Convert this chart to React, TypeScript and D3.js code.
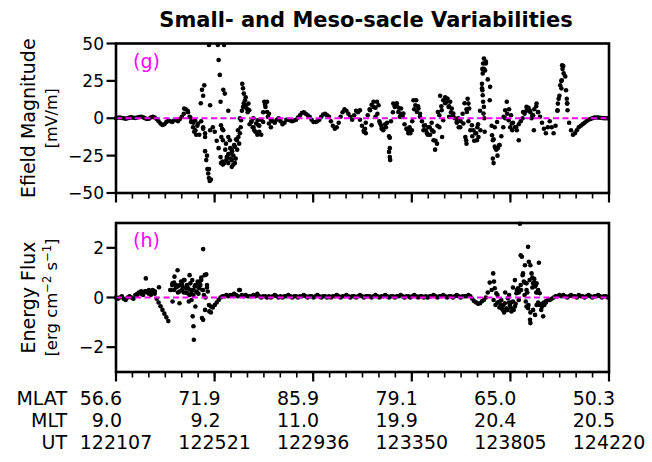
import React from 'react';
import * as d3 from 'd3';

// time axis: seconds after 12:21:07 UT
const STEP = 5;
const T_END = 1273;
const tickSeconds = [0, 254.6, 509.2, 763.8, 1018.4, 1273];
const mlatLabels = ['56.6', '71.9', '85.9', '79.1', '65.0', '50.3'];
const mltLabels = ['9.0', '9.2', '11.0', '19.9', '20.4', '20.5'];
const utLabels = ['122107', '122521', '122936', '123350', '123805', '124220'];
const efieldTicks = [-50, -25, 0, 25, 50];
const fluxTicks = [-2, 0, 2];

// Efield magnitude (mV/m), sampled every STEP seconds
const efieldTrack = [
  0, 0.3, 0.5, 0.2, 0, -0.3, 0, 0.4, 0.6, 0.3,
  0.2, 0.5, 0.8, 1, 0.6, 0, -0.5, -0.3, 0.5, 1,
  0.5, -0.5, -2, -3.5, -4.5, -4, -2.5, -1.5, -2, -2.5,
  -1.5, -1, -2, -0.5, 1, 3, 6, 5, 1, -2,
  -3, -8, -5, -11, -2, -7, -10, -25, -34, -41,
  -6, -9, -15, -20, -26, -29, -30, -28, -24, -20,
  -22, -18, -14, -8, 0, 5, 10, 14, 6, -4,
  -2, -6, -9, -11, -5, -1, 4, 9, 11, 3,
  -1, -2, -3, -1, 0, -2, -4, -3, -1, -1,
  -1.5, -2, -1.5, -1, 0.5, 2, 3.5, 4, 3, 2,
  1, -1, -2.5, -2.5, -2, -1, 1, 2.5, 3, 2,
  1, -2, -5, -7, -6, -3, 1, 4, 6, 5,
  3, 1, -1, 2, 5, 4, -1, -5, -8, -3,
  2, 6, 9, 11, 7, 3, -2, -5, -7, -4,
  -3, -12, -2, 4, 8, 10, 7, 3, 1, -4,
  -7, -10, -8, -2, 6, 12, 8, 3, -2, -5,
  -8, -11, -6, -3, -9, -15, -5, 2, 8, 12,
  10, 13, 8, 4, 2, 0, -3, -6, -2, 3,
  10, 6, -2, -8, -12, -15, -10, -4, 5, 20,
  33, 38, 26, 12, -5, -14, -20, -25, -18, -12,
  -6, 0, 3, 6, 2, -3, -6, -8, -4, -2,
  0, 3, 5, 7, 4, 2, 6, 8, 4, 1,
  -3, -7, -10, -6, -2, -6, -10, -5, 5, 15,
  25, 35, 28, 10, -3, -8, -11, -10, -8, -6,
  -5, -4, -3, -2, -1, -0.5, 0, 0.5, 0.5, 0.5,
  0.3, 0.2, 0, 0, 0,
];

// additional Efield samples in the active intervals: [seconds, mV/m]
const efieldScatter: [number, number][] = [
  [176, 6.5], [186, 4], [192, 0.5], [194, -2.5], [199, -6], [202, -9], [204, -1.3], [207, -11], [212, -3.5],
  [219, 10], [222, 19], [225, 15], [225, -6], [228, 22], [230, -12.5], [230, -22], [233, -28], [236, -34],
  [238, -37], [240, -40], [242, -42], [240, 49], [243, 8.7], [243, -8], [263, 49], [265, 39], [268, 29],
  [270, 11], [279, 49], [277, 19], [281, 16.5], [290, 5],
  [271, -4.7], [274, -7], [277, -8], [272, -12.5], [276, -14.7], [284, -17], [290, -12.5], [282, -21],
  [286, -26], [295, -27], [299, -28], [303, -25], [307, -19], [312, -14.7], [313, -21], [316, -12.5],
  [318, -17], [320, -10], [322, -6], [294, -14.7], [299, -21], [307, -30], [303, -31], [299, -32.5],
  [290, -30], [276, -31], [271, -30], [297, -23.6], [309, -27],
  [326, 23], [328, 20], [330, 16.5], [333, 12], [335, 8.7], [337, 6.5], [340, 4], [328, 7.6], [323, -1.3],
  [342, 9.8], [344, 5.4],
  [349, -2.5], [353, -6], [357, -8], [362, -3.5], [366, -1.3], [370, -9], [375, -11], [355, 0], [368, -4.7],
  [383, 11], [386, 7.6], [390, 4.2], [392, 1], [395, -3.5], [400, -6], [380, -2.5],
  [630, 5.4], [643, -7], [645, -10], [640, -9], [656, 5.4], [665, 7.6], [674, 11], [678, 8.7], [670, 1],
  [660, -4.7], [682, -3.5], [686, -7], [690, -8], [697, -6],
  [707, -13], [707, -20], [705, -22.5], [707, -26], [708, -28],
  [716, 9.8], [720, 7.6], [724, 8.7], [729, 4.2], [736, 6.5], [742, 3.1], [733, 1],
  [751, -7], [755, -9], [760, -10], [764, -8], [758, -6],
  [768, 12], [773, 8.7], [777, 4.2], [781, 6.5], [785, 1],
  [794, -8], [798, -4.7], [803, -10], [807, -6], [811, -11], [816, -8], [820, -14.7], [824, -21], [829, -17],
  [837, 15], [841, 5.4], [845, -1.3], [835, -6], [842, -12.5], [831, 4.2],
  [850, 14], [854, 11], [859, 7.6],
  [856, 13], [863, 11], [867, 6.5], [871, 3.1], [860, 1], [880, -2.5], [889, -6], [897, -3.5], [884, 0],
  [904, -14.7], [902, -12.5], [905, -17], [908, 13], [910, 9.8], [912, 6.5], [906, 4.2],
  [919, -4.7], [923, -8], [928, -10], [932, -14.7], [936, -12.5], [941, -8], [933, -6],
  [950, 40], [948, 36.6], [946, 33], [947, 30], [945, 23], [946, 18.7], [947, 15.4], [948, 11], [950, 7.6],
  [949, 3.1], [951, 0], [955, 36.6], [953, 32],
  [966, 21], [952, -9], [971, -11.4], [973, -14.7], [978, -19], [982, -21], [973, -27], [975, -30],
  [986, -20], [990, -18], [978, -6], [984, -2.5],
  [1009, 11], [1005, 5.4], [1001, 1], [1014, -1.3], [1018, -6], [1022, -3.5], [1023, -8], [1040, -14.7], [1033, -6],
  [1051, 4.2], [1060, 7.6], [1068, 5.4], [1077, 2], [1086, 9.8], [1090, 4.2], [1079, -8], [1073, 0],
  [1152, 35.5], [1153, 33], [1156, 30], [1151, 25.4], [1147, 22], [1150, 20], [1143, 13], [1141, 9.8],
  [1140, 5.4], [1162, 18.7], [1164, 13], [1165, 9.8], [1166, 5.4],
];

// Energy flux (erg cm^-2 s^-1), sampled every STEP seconds
const fluxTrack = [
  0, -0.05, 0, 0.05, -0.05, -0.1, 0, 0.05, 0, -0.05,
  0.1, 0.15, 0.2, 0.15, 0.2, 0.25, 0.2, 0.15, 0.2, 0.2,
  0.15, -0.05, -0.2, -0.35, -0.5, -0.65, -0.8, -0.95, 0.3, 0.5,
  0.6, 0.4, 0.2, 0.5, 0.3, 0.7, 0.2, 0.4, 0.1, -0.1,
  0.3, 0.5, 0.2, 0.6, 0.8, 0.3, -0.5, 0.4, -0.3, -0.6,
  -0.4, -0.3, -0.2, -0.1, 0, 0.05, 0.05, 0.1, 0.05, 0.1,
  0.1, 0.15, 0.1, 0.05, 0.3, 0.1, 0.05, 0.1, 0.05, 0.05,
  0.05, 0.1, 0.05, 0.15, 0.05, 0, 0.05, 0.05, 0, 0.05,
  0, 0.05, 0.1, 0.05, 0, 0.05, 0, 0.05, 0.05, 0.1,
  0.05, 0, 0.05, 0.05, 0, 0.05, 0.05, 0.1, 0.05, 0,
  0.05, 0.05, 0, 0.05, 0.1, 0.05, 0, 0.05, 0.05, 0,
  0.05, 0, 0.05, 0.05, 0.1, 0.05, 0, 0.05, 0.05, 0.1,
  0.05, 0, 0.05, 0.05, 0, 0.05, 0.1, 0.05, 0, 0.05,
  0.05, 0.05, 0, 0.05, 0.1, 0.05, 0, 0.05, 0.05, 0.1,
  0.05, 0, 0.05, 0.05, 0, 0.05, 0.05, 0.1, 0.05, 0,
  0.05, 0.05, 0, 0.05, 0.1, 0.05, 0, 0.05, 0.05, 0,
  0.05, 0, 0.05, 0.05, 0.1, 0.05, 0, 0.05, 0.05, 0.1,
  0.05, 0, 0.05, 0.05, 0, 0.05, 0.1, 0.05, 0, 0.05,
  0.05, 0.05, 0.1, 0.05, -0.05, -0.15, -0.2, -0.25, -0.23, -0.15,
  -0.1, 0, 0.2, 0.6, 0.3, -0.1, -0.3, -0.2, -0.4, -0.1,
  -0.3, 0.2, -0.5, 0.1, -0.2, 0.4, 0.7, 0.3, -0.1, 0.5,
  0.9, 0.6, 0.3, -0.3, -0.6, 0.4, 0.6, 0.2, -0.2, -0.3,
  -0.25, -0.2, -0.15, -0.1, -0.1, -0.05, 0, 0.05, 0.05, 0.1,
  0.05, 0.1, 0.05, 0, 0.05, 0.1, 0.05, 0.05, 0, 0.1,
  0.05, 0.05, 0, 0.05, 0.1, 0.05, 0, 0.05, 0.05, 0.1,
  0.05, 0, 0.05, 0.05, 0,
];

// additional energy-flux samples in the active intervals: [seconds, flux]
const fluxScatter: [number, number][] = [
  [55, 0.1], [60, 0.2], [65, 0.25], [70, 0.1], [77, 0.77], [80, 0.25], [85, 0.3], [90, 0.1], [95, 0.3],
  [100, 0.25], [111, 0.41],
  [142, 0.3], [146, 0.57], [151, 0.84], [155, 0.5], [159, 1.1], [164, 0.24], [168, 0.64], [172, 0.44],
  [177, 0.7], [181, 0.37], [185, 0.17], [190, 0.9], [192, 0.57], [194, 0.3], [197, 0.7], [200, 0.1],
  [203, 0.44], [207, 0.24], [211, 0.64], [215, 0.37], [220, 0.7], [225, 1.95], [229, 0.9], [233, 0.93],
  [235, 0.5], [237, 0.24], [231, 0],
  [150, 0.3], [160, 0.45], [170, 0.55], [175, 0.2], [183, 0.5], [187, 0.35], [195, 0.15], [210, 0.45],
  [213, 0.15], [218, 0.5], [223, 0.3], [227, 0.1],
  [146, -0.16], [164, -0.23], [188, -0.16], [198, -0.76], [200, -1.16], [201, -1.7], [205, -0.36],
  [222, -0.83], [225, -0.9], [241, -0.56], [245, -0.36], [318, 0.3],
  [974, 0.97], [976, 0.64], [978, 0.37], [982, 0.17], [991, -0.16], [995, -0.36], [999, -0.5],
  [1004, -0.23], [1008, -0.43], [1012, -0.03], [1017, -0.3], [1021, -0.56], [1025, -0.16], [1030, -0.36],
  [1034, 0.17], [1038, 0.37],
  [1043, 2.97], [1045, 1.7], [1048, 1.64], [1051, 0.97], [1053, 0.64], [1056, 1.3], [1060, 0.57],
  [1064, 2.04], [1066, 1.44], [1070, 1.3], [1073, 0.97], [1077, 0.57], [1082, 0.44], [1086, 0.57],
  [1090, 0.3], [1092, 1.4], [1094, 0.17],
  [1058, -0.16], [1060, -0.36], [1064, -0.43], [1069, -0.9], [1070, -1.03], [1077, -0.5], [1082, -0.7],
  [1086, -0.3], [1103, -0.76], [1100, -0.36],
  [985, 0.1], [993, -0.3], [997, -0.45], [1002, -0.6], [1010, -0.5], [1015, -0.2], [1019, -0.4],
  [1027, -0.5], [1032, -0.25], [1040, 0.2], [1046, 0.3], [1055, 0.1], [1062, 0.2], [1068, 0.7],
  [1075, 0.8], [1080, 0.75], [1084, 0.5], [1088, 0.2], [1095, -0.3], [1098, -0.5], [1106, -0.3], [1110, -0.2],
];

const W = 652;
const H = 462;
const X0 = 116;
const X1 = 609;
const G_TOP = 43.5;
const G_BOT = 193;
const H_TOP = 223;
const H_BOT = 372;
const FONT = 'DejaVu Sans, sans-serif';
const MAGENTA = '#ff00ff';

export default function App() {
  const x = d3.scaleLinear().domain([0, T_END]).range([X0, X1]);
  const yG = d3.scaleLinear().domain([-50, 50]).range([G_BOT, G_TOP]);
  const yH = d3.scaleLinear().domain([-3, 3]).range([H_BOT, H_TOP]);
  const minor = d3.range(0, 31).map((i) => (i * T_END) / 30);

  const gPts: [number, number][] = efieldTrack.map((v, i) => [i * STEP, v] as [number, number]).concat(efieldScatter);
  const hPts: [number, number][] = fluxTrack.map((v, i) => [i * STEP, v] as [number, number]).concat(fluxScatter);

  const xTicks = (yb: number, key: string) => (
    <g key={key}>
      {minor.map((t, i) => (
        <line key={'m' + i} x1={x(t)} x2={x(t)} y1={yb} y2={yb + 5.5} stroke="#000" strokeWidth={1.6} />
      ))}
      {tickSeconds.map((t, i) => (
        <line key={'M' + i} x1={x(t)} x2={x(t)} y1={yb} y2={yb + 9.5} stroke="#000" strokeWidth={2.2} />
      ))}
    </g>
  );

  const panel = (
    key: string,
    y: d3.ScaleLinear<number, number>,
    top: number,
    bot: number,
    pts: [number, number][],
    ticks: number[],
    label: string
  ) => (
    <g key={key}>
      {pts.map((p, i) => (
        <circle key={i} cx={x(p[0])} cy={y(p[1])} r={2.3} fill="#000" />
      ))}
      <line x1={X0} x2={X1} y1={y(0)} y2={y(0)} stroke={MAGENTA} strokeWidth={1.8} strokeDasharray="6,3.5" />
      <rect x={X0} y={top} width={X1 - X0} height={bot - top} fill="none" stroke="#000" strokeWidth={2.6} />
      {ticks.map((t) => (
        <g key={t}>
          <line x1={X0 - 9.5} x2={X0} y1={y(t)} y2={y(t)} stroke="#000" strokeWidth={2.2} />
          <text x={X0 - 12} y={y(t)} dy="0.36em" textAnchor="end" fontSize={17} fontFamily={FONT}>
            {t < 0 ? '\u2212' + Math.abs(t) : String(t)}
          </text>
        </g>
      ))}
      {xTicks(bot, key + 'x')}
      <text x={133} y={top + 24} fontSize={19} fontFamily={FONT} fill={MAGENTA}>
        {label}
      </text>
    </g>
  );

  const rowY = [405, 427, 449];

  return (
    <svg width={W} height={H} style={{ position: 'absolute', left: 0, top: 0, background: '#fff' }}>
      <rect width={W} height={H} fill="#fff" />
      <text x={366} y={27} textAnchor="middle" fontSize={21} fontWeight="bold" fontFamily={FONT}>
        Small- and Meso-sacle Variabilities
      </text>
      {panel('g', yG, G_TOP, G_BOT, gPts, efieldTicks, '(g)')}
      {panel('h', yH, H_TOP, H_BOT, hPts, fluxTicks, '(h)')}

      <text transform={`translate(35,${(G_TOP + G_BOT) / 2}) rotate(-90)`} textAnchor="middle" fontSize={19} fontFamily={FONT}>
        Efield Magnitude
      </text>
      <text transform={`translate(57,${(G_TOP + G_BOT) / 2}) rotate(-90)`} textAnchor="middle" fontSize={16} fontFamily={FONT}>
        [mV/m]
      </text>
      <text transform={`translate(35,${(H_TOP + H_BOT) / 2}) rotate(-90)`} textAnchor="middle" fontSize={19} fontFamily={FONT}>
        Energy Flux
      </text>
      <text transform={`translate(57,${(H_TOP + H_BOT) / 2}) rotate(-90)`} textAnchor="middle" fontSize={16.5} fontFamily={FONT}>
        [erg cm<tspan dy={-6} fontSize={11.5}>{'\u22122'}</tspan>
        <tspan dy={6}> s</tspan>
        <tspan dy={-6} fontSize={11.5}>{'\u22121'}</tspan>
        <tspan dy={6}>]</tspan>
      </text>

      <text x={67} y={rowY[0]} textAnchor="end" fontSize={19} fontFamily={FONT}>MLAT</text>
      <text x={67} y={rowY[1]} textAnchor="end" fontSize={19} fontFamily={FONT}>MLT</text>
      <text x={67} y={rowY[2]} textAnchor="end" fontSize={19} fontFamily={FONT}>UT</text>
      {tickSeconds.map((t, i) => (
        <g key={'lab' + i}>
          <text x={x(t) + 6} y={rowY[0]} textAnchor="end" fontSize={19} fontFamily={FONT}>{mlatLabels[i]}</text>
          <text x={x(t) + 6} y={rowY[1]} textAnchor="end" fontSize={19} fontFamily={FONT}>{mltLabels[i]}</text>
          <text x={x(t)} y={rowY[2]} textAnchor="middle" fontSize={19} fontFamily={FONT}>{utLabels[i]}</text>
        </g>
      ))}
    </svg>
  );
}
